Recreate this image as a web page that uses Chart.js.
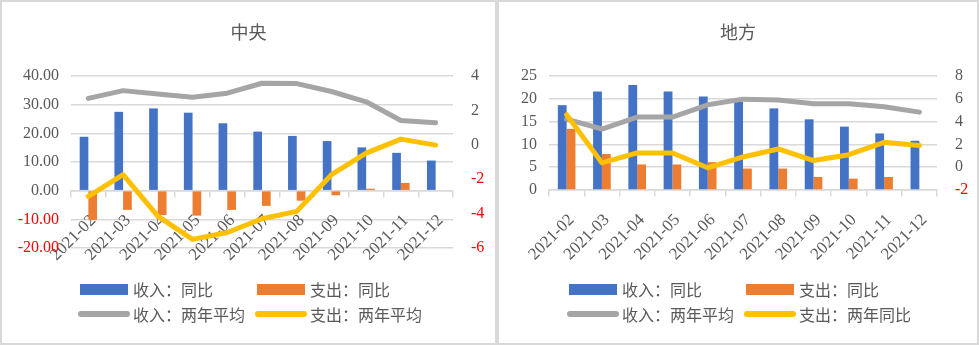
<!DOCTYPE html>
<html>
<head>
<meta charset="utf-8">
<script src="https://cdn.jsdelivr.net/npm/chart.js@4.4.1/dist/chart.umd.min.js"></script>
<style>
  html, body { margin: 0; padding: 0; background: #fff; }
  body { width: 979px; height: 345px; position: relative; overflow: hidden; }
  .wrap { position: absolute; top: 0; }
  .frame { position: absolute; top: 0; height: 345px; box-sizing: border-box; border: 2px solid #d9d9d9; pointer-events: none; }
  .title { position: absolute; top: 18px; font-family: 'Noto Sans CJK SC', sans-serif; font-size: 18px; color: #595959; text-align: center; }
  .leg { position: absolute; font-family: 'Noto Sans CJK SC', sans-serif; font-size: 16px; color: #595959; white-space: nowrap; line-height: 20px; }
  .sw { position: absolute; }
</style>
</head>
<body>
<div class="wrap" style="left:0;width:497px;height:345px;"><canvas id="c1" width="497" height="345"></canvas></div>
<div class="wrap" style="left:497px;width:482px;height:345px;"><canvas id="c2" width="482" height="345"></canvas></div>
<div class="frame" style="left:0;width:497px;"></div>
<div class="frame" style="left:497px;width:482px;"></div>
<div class="title" id="t1" style="left:0;width:497px;"></div>
<div class="title" id="t2" style="left:497px;width:482px;"></div>
<div id="legends"></div>
<script>
// ---- data ----
const months = ['2021-02','2021-03','2021-04','2021-05','2021-06','2021-07','2021-08','2021-09','2021-10','2021-11','2021-12'];
const titleCentral = '中央';
const titleLocal = '地方';
const legendCentral = ['收入：同比', '支出：同比', '收入：两年平均', '支出：两年平均'];
const legendLocal = ['收入：同比', '支出：同比', '收入：两年平均', '支出：两年同比'];

const centralIncomeYoY = [18.8, 27.5, 28.7, 27.2, 23.5, 20.6, 19.1, 17.3, 15.1, 13.2, 10.5];
const centralExpYoY    = [-10.2, -6.7, -8.5, -8.7, -6.7, -5.3, -3.5, -1.6, 0.7, 2.7, null];
const centralIncome2Y  = [2.7, 3.15, 2.95, 2.76, 3.0, 3.58, 3.56, 3.1, 2.5, 1.41, 1.28];
const centralExp2Y     = [-3.0, -1.74, -4.15, -5.5, -5.1, -4.3, -3.87, -1.74, -0.48, 0.33, -0.02];

const localIncomeYoY = [18.6, 21.6, 23.0, 21.6, 20.5, 19.4, 17.9, 15.5, 13.9, 12.4, 10.8];
const localExpYoY    = [13.4, 7.9, 5.6, 5.6, 6.1, 4.7, 4.7, 2.85, 2.5, 2.85, null];
const localIncome2Y  = [4.22, 3.35, 4.4, 4.4, 5.47, 5.97, 5.9, 5.56, 5.56, 5.3, 4.83];
const localExp2Y     = [4.6, 0.38, 1.25, 1.25, -0.05, 0.9, 1.6, 0.58, 1.1, 2.18, 1.9];

// ---- style ----
const BLUE = '#4472C4', ORANGE = '#ED7D31', GRAY = '#A5A5A5', YELLOW = '#FFC000';
const TXT = '#595959', RED = '#FF0000', GRID = '#d9d9d9';
const SERIF = "'Liberation Serif', 'Times New Roman', serif";
Chart.defaults.font.family = SERIF;
Chart.defaults.animation = false;

function tickColor(ctx) { return (ctx.tick && ctx.tick.value < 0) ? RED : TXT; }

function makeChart(id, names, inc, exp, inc2, exp2, yCfg, y1Cfg, geo) {
  const ds = [
    { type: 'bar', label: names[0], data: inc, backgroundColor: BLUE, yAxisID: 'y', order: 2, categoryPercentage: 0.5, barPercentage: 1.0 },
    { type: 'bar', label: names[1], data: exp, backgroundColor: ORANGE, yAxisID: 'y', order: 2, categoryPercentage: 0.5, barPercentage: 1.0 },
    { type: 'line', label: names[2], data: inc2, borderColor: GRAY, backgroundColor: GRAY, borderWidth: 5, pointRadius: 0, tension: 0, yAxisID: 'y1', order: 1, borderCapStyle: 'round', borderJoinStyle: 'round' },
    { type: 'line', label: names[3], data: exp2, borderColor: YELLOW, backgroundColor: YELLOW, borderWidth: 5, pointRadius: 0, tension: 0, yAxisID: 'y1', order: 0, borderCapStyle: 'round', borderJoinStyle: 'round' }
  ];
  return new Chart(document.getElementById(id), {
    type: 'bar',
    data: { labels: months, datasets: ds },
    options: {
      responsive: false,
      animation: false,
      layout: { padding: { top: geo.top, bottom: geo.bottom, left: 0, right: 0 } },
      plugins: { legend: { display: false }, tooltip: { enabled: false }, title: { display: false } },
      scales: {
        x: {
          type: 'category',
          position: { y: 0 },
          offset: true,
          grid: { display: true, offset: true, drawOnChartArea: false, drawTicks: true, tickLength: 6, color: GRID, lineWidth: 1.5 },
          border: { display: true, color: GRID, width: 1.5 },
          ticks: { autoSkip: false, maxRotation: 45, minRotation: 45, color: TXT, font: { family: SERIF, size: 17 }, padding: 14, labelOffset: 5 }
        },
        y: {
          position: 'left',
          min: yCfg.min, max: yCfg.max,
          grid: { color: GRID, lineWidth: 1.5, drawTicks: false },
          border: { display: false },
          ticks: { stepSize: yCfg.step, color: tickColor, font: { family: SERIF, size: 16 }, padding: geo.lpad,
                   callback: (v) => yCfg.dec ? Number(v).toFixed(yCfg.dec) : String(v) },
          afterFit: (s) => { s.width = geo.lw; }
        },
        y1: {
          position: 'right',
          min: y1Cfg.min, max: y1Cfg.max,
          grid: { display: false, drawOnChartArea: false },
          border: { display: false },
          ticks: { stepSize: y1Cfg.step, color: tickColor, font: { family: SERIF, size: 16 }, padding: geo.rpad },
          afterFit: (s) => { s.width = geo.rw; }
        }
      }
    }
  });
}

makeChart('c1', legendCentral, centralIncomeYoY, centralExpYoY, centralIncome2Y, centralExp2Y,
  { min: -20, max: 40, step: 10, dec: 2 }, { min: -6, max: 4, step: 2 },
  { top: 76, bottom: 97, lw: 71, rw: 44, lpad: 12, rpad: 10 });
makeChart('c2', legendLocal, localIncomeYoY, localExpYoY, localIncome2Y, localExp2Y,
  { min: 0, max: 25, step: 5, dec: 0 }, { min: -2, max: 8, step: 2 },
  { top: 76, bottom: 155, lw: 52, rw: 42, lpad: 12, rpad: 10 });

document.getElementById('t1').textContent = titleCentral;
document.getElementById('t2').textContent = titleLocal;

// ---- HTML legends ----
function legend(names, x0, x1) {
  const colors = [BLUE, ORANGE, GRAY, YELLOW];
  const host = document.getElementById('legends');
  const cols = [x0, x1];
  names.forEach((n, i) => {
    const col = i % 2, row = Math.floor(i / 2);
    const cy = row === 0 ? 289 : 314;
    const x = cols[col];
    const sw = document.createElement('div');
    sw.className = 'sw';
    if (row === 0) {
      sw.style.cssText = `left:${x}px;top:${cy - 5}px;width:48px;height:11px;background:${colors[i]};`;
    } else {
      sw.style.cssText = `left:${x - 2}px;top:${cy - 3}px;width:52px;height:6px;border-radius:3px;background:${colors[i]};`;
    }
    host.appendChild(sw);
    const t = document.createElement('div');
    t.className = 'leg';
    t.style.left = (x + 53) + 'px';
    t.style.top = (cy - 10) + 'px';
    t.textContent = n;
    host.appendChild(t);
  });
}
legend(legendCentral, 80, 257);
legend(legendLocal, 569, 746);
</script>
</body>
</html>
